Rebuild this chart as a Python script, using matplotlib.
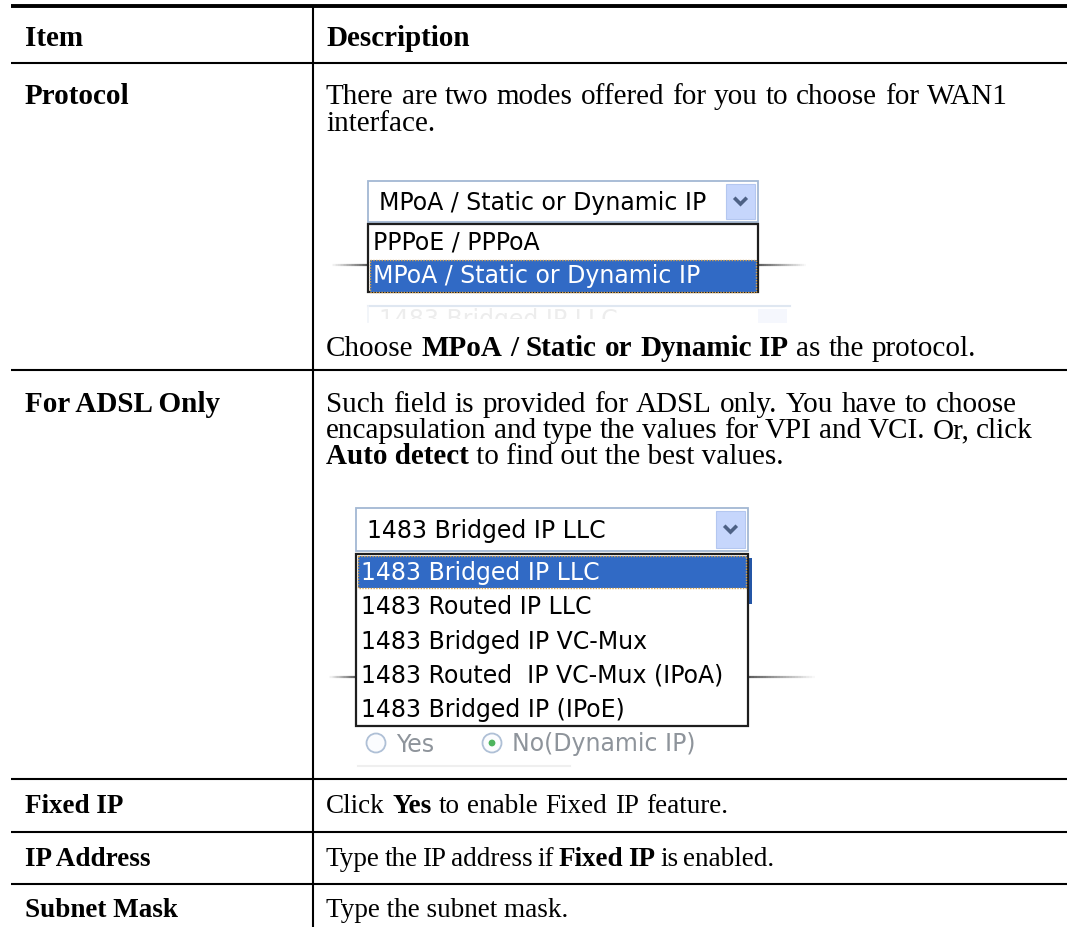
import re
import numpy as np
import matplotlib
matplotlib.use('Agg')
import matplotlib.pyplot as plt
from matplotlib.patches import Rectangle, Circle
from matplotlib.collections import LineCollection
from matplotlib.transforms import Bbox, TransformedBbox

W, H = 1067, 927

# ---- table content ----
header = ['Item', 'Description']
items = ['Protocol', 'For ADSL Only', 'Fixed IP', 'IP Address', 'Subnet Mask']

# description lines: each line is a list of (text, bold) runs
desc_protocol = [
    [('There are two modes offered for you to choose for WAN1', False)],
    [('interface.', False)],
]
desc_protocol_end = [('Choose ', False), ('MPoA / Static or Dynamic IP', True),
                     (' as the protocol.', False)]
desc_adsl = [
    [('Such field is provided for ADSL only. You have to choose', False)],
    [('encapsulation and type the values for VPI and VCI. Or, click', False)],
    [('Auto detect', True), (' to find out the best values.', False)],
]
desc_fixed = [('Click ', False), ('Yes', True), (' to enable Fixed IP feature.', False)]
desc_ip = [('Type the IP address if ', False), ('Fixed IP', True), (' is enabled.', False)]
desc_mask = [('Type the subnet mask.', False)]

protocol_options = ['PPPoE / PPPoA', 'MPoA / Static or Dynamic IP']
protocol_value = 'MPoA / Static or Dynamic IP'
adsl_options = ['1483 Bridged IP LLC', '1483 Routed IP LLC', '1483 Bridged IP VC-Mux',
                '1483 Routed  IP VC-Mux (IPoA)', '1483 Bridged IP (IPoE)']
adsl_value = '1483 Bridged IP LLC'
radio_labels = ['Yes', 'No(Dynamic IP)']
radio_checked = 1

# ---- layout (pixels) ----
X_LEFT, X_DIV = 11, 313
Y_TOP = 6
ROW_LINES = [63, 370, 779, 832, 884]
LABEL_X, DESC_X = 25, 326
SERIF, SANS = 'Liberation Serif', 'DejaVu Sans'
FS, FS_LOW, FS_UI = 21, 19.5, 17

fig = plt.figure(figsize=(W / 100, H / 100), dpi=100)
ax = fig.add_axes([0, 0, 1, 1])
ax.set_xlim(0, W)
ax.set_ylim(H, 0)
ax.axis('off')
renderer = fig.canvas.get_renderer()

_adv = {}


def advance(s, family, size, bold):
    key = (s, family, size, bold)
    if key not in _adv:
        w = []
        for txt in ('|' + s + '|', '||'):
            t = ax.text(0, 0, txt, family=family, fontsize=size,
                        fontweight='bold' if bold else 'normal')
            w.append(t.get_window_extent(renderer).width)
            t.remove()
        _adv[key] = w[0] - w[1]
    return _adv[key]


def draw_line(x, y, runs, size=FS, family=SERIF, color='black', x_end=None, z=6, clip=None):
    # with x_end the spaces are widened a little so the line ends where the original does
    if x_end is None:
        tokens = [(text, bold) for text, bold in runs]
        extra = 0
    else:
        tokens = []
        for text, bold in runs:
            for tok in re.split(r'( )', text):
                if tok:
                    tokens.append((tok, bold))
        natural = sum(advance(t, family, size, b) for t, b in tokens)
        n_sp = sum(1 for t, _ in tokens if t == ' ')
        extra = max((x_end - x - natural) / n_sp, -2) if n_sp else 0
    for tok, bold in tokens:
        if tok != ' ':
            t = ax.text(x, y, tok, family=family, fontsize=size, color=color,
                        fontweight='bold' if bold else 'normal',
                        ha='left', va='baseline', zorder=z)
            if clip is not None:
                t.set_clip_box(TransformedBbox(Bbox(clip), ax.transData))
                t.set_clip_on(True)
        x += advance(tok, family, size, bold) + (extra if tok == ' ' else 0)


def faded_line(y, x_from, x_to, n=24):
    xs = np.linspace(x_from, x_to, n + 1)
    segs = [[(xs[i], y), (xs[i + 1], y)] for i in range(n)]
    alphas = np.linspace(0.85, 0.0, n)
    cols = [(0.25, 0.25, 0.25, a) for a in alphas]
    ax.add_collection(LineCollection(segs, colors=cols, linewidths=1.6, zorder=2))


def combo(x0, y0, x1, y1, value):
    ax.add_patch(Rectangle((x0, y0), x1 - x0, y1 - y0, facecolor='white',
                           edgecolor='#A3B8D3', lw=1.3, zorder=3))
    bx0 = x1 - 32
    ax.add_patch(Rectangle((bx0, y0 + 3), 29, y1 - y0 - 6, facecolor='#C6D6FC',
                           edgecolor='#B4C7F0', lw=0.8, zorder=4))
    cx, cy = bx0 + 14.5, (y0 + y1) / 2
    ax.plot([cx - 5, cx, cx + 5], [cy - 2.5, cy + 2.5, cy - 2.5], color='#4D6185',
            lw=2.6, solid_joinstyle='miter', zorder=5)
    draw_line(x0 + 11, (y0 + y1) / 2 + 8.5, [(value, False)], size=FS_UI, family=SANS)


def listbox(x0, y0, x1, row_h, options, selected):
    y1 = y0 + row_h * len(options)
    ax.add_patch(Rectangle((x0, y0), x1 - x0, y1 - y0, facecolor='white',
                           edgecolor='#1E1E1E', lw=1.6, zorder=3))
    for i, opt in enumerate(options):
        top = y0 + i * row_h
        sel = opt == selected
        if sel:
            ax.add_patch(Rectangle((x0 + 1.5, top + 1.5), x1 - x0 - 3, row_h - 1.5,
                                   facecolor='#316AC5', edgecolor='none', zorder=4))
            ax.add_patch(Rectangle((x0 + 2, top + 2), x1 - x0 - 4, row_h - 2.5, fill=False,
                                   edgecolor='#D9A34A', lw=1.0, linestyle=(0, (1, 1)), zorder=5))
        draw_line(x0 + 5, top + row_h / 2 + 8.5, [(opt, False)], size=FS_UI, family=SANS,
                  color='white' if sel else 'black')
    return y1


# ---- table rules ----
ax.plot([X_LEFT, W], [Y_TOP, Y_TOP], color='black', lw=2.8, solid_capstyle='butt')
for y in ROW_LINES:
    ax.plot([X_LEFT, W], [y, y], color='black', lw=1.5, solid_capstyle='butt')
ax.plot([X_DIV, X_DIV], [Y_TOP, H], color='black', lw=1.5, solid_capstyle='butt')

# ---- header ----
draw_line(LABEL_X, 46, [(header[0], True)])
draw_line(DESC_X, 46, [(header[1], True)])

# ---- item labels ----
label_base = [104, 412, 813, 866, 917]
label_size = [FS, FS, FS_LOW, FS_LOW, FS_LOW]
for lab, yb, fs in zip(items, label_base, label_size):
    draw_line(LABEL_X, yb, [(lab, True)], size=fs)

# ---- Protocol description ----
draw_line(DESC_X, 104, desc_protocol[0], x_end=1008)
draw_line(DESC_X, 131, desc_protocol[1])

faded_line(265, 368, 330)
faded_line(265, 758, 808)
combo(368, 181, 758, 222, protocol_value)
listbox(368, 224, 758, 34, protocol_options, protocol_value)

# faded widget glimpse below the first list
ax.plot([368, 790], [306, 306], color='#DFE7F1', lw=1.5, zorder=2)
ax.plot([368, 368], [306, 322], color='#F0F3F8', lw=1.2, zorder=2)
ax.add_patch(Rectangle((758, 309), 29, 14, facecolor='#F5F7FD', edgecolor='none', zorder=2))
draw_line(379, 327, [(adsl_value, False)], size=FS_UI, family=SANS, color='#EDEDED',
          z=2, clip=[[360, 306], [800, 319]])

draw_line(DESC_X, 356, desc_protocol_end, x_end=976)

# ---- ADSL description ----
draw_line(DESC_X, 412, desc_adsl[0], x_end=1017)
draw_line(DESC_X, 438, desc_adsl[1], x_end=1033)
draw_line(DESC_X, 464, desc_adsl[2])

faded_line(677, 356, 328)
faded_line(677, 748, 818)
combo(356, 508, 748, 551, adsl_value)
ax.add_patch(Rectangle((748, 558), 3.5, 46, facecolor='#2456A6', edgecolor='none', zorder=2))
list_bottom = listbox(356, 554, 748, 34.4, adsl_options, adsl_value)

# faded radio buttons
radio_x = [376, 492]
ry = 743
for i, (lab, rx) in enumerate(zip(radio_labels, radio_x)):
    ax.add_patch(Circle((rx, ry), 9.5, facecolor='#FBFCFE', edgecolor='#AFC0D6', lw=1.3, zorder=2))
    if i == radio_checked:
        ax.add_patch(Circle((rx, ry), 3.4, facecolor='#4DB45E', edgecolor='none', zorder=2))
    draw_line(rx + 20, ry + 8.5, [(lab, False)], size=FS_UI, family=SANS, color='#8E949B', z=2)
ax.plot([358, 570], [766, 766], color='#EFEFEF', lw=1.5, zorder=1)

# ---- remaining rows ----
draw_line(DESC_X, 813, desc_fixed, size=FS_LOW, x_end=728)
draw_line(DESC_X, 866, desc_ip, size=FS_LOW, x_end=768)
draw_line(DESC_X, 917, desc_mask, size=FS_LOW)

fig.savefig('out.png', dpi=100)
